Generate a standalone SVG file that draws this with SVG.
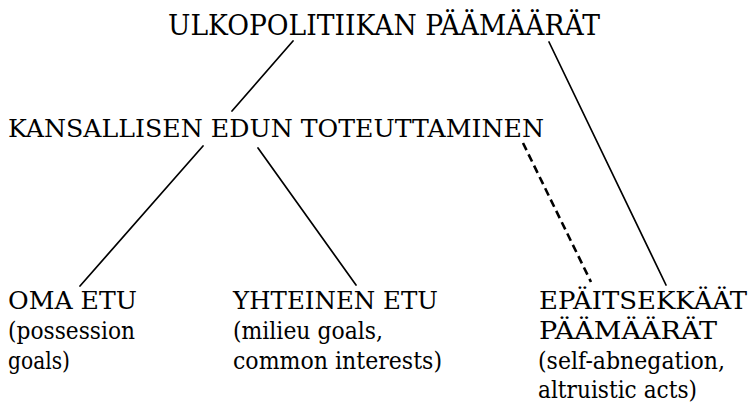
<svg xmlns="http://www.w3.org/2000/svg" width="751" height="415" viewBox="0 0 751 415">
  <style>
    text { font-family: "DejaVu Serif", "Liberation Serif", serif; font-size: 25px; fill: #000; }
    .title { font-size: 27px; }
    .edge { stroke: #000; stroke-width: 1.7; fill: none; stroke-linecap: round; }
    .dash { stroke: #000; stroke-width: 2.6; fill: none; stroke-dasharray: 8 4.6; }
  </style>
  <rect width="751" height="415" fill="#ffffff"/>
  <g id="connectors">
    <line class="edge" x1="293" y1="41" x2="232" y2="111"/>
    <line class="edge" x1="549" y1="42" x2="666" y2="285"/>
    <line class="edge" x1="203" y1="146" x2="80" y2="286"/>
    <line class="edge" x1="258" y1="148" x2="356" y2="285"/>
    <line class="dash" x1="523" y1="143" x2="591" y2="282"/>
  </g>
  <g id="root" font-family="DejaVu Serif, serif">
    <text class="title" x="168" y="35" textLength="432" lengthAdjust="spacingAndGlyphs">ULKOPOLITIIKAN PÄÄMÄÄRÄT</text>
  </g>
  <g id="national-interest" font-family="DejaVu Serif, serif">
    <text x="8" y="137" textLength="536" lengthAdjust="spacingAndGlyphs">KANSALLISEN EDUN TOTEUTTAMINEN</text>
  </g>
  <g id="own-interest" font-family="DejaVu Serif, serif">
    <text x="8" y="309" textLength="129" lengthAdjust="spacingAndGlyphs">OMA ETU</text>
    <text x="8" y="339" textLength="127" lengthAdjust="spacingAndGlyphs">(possession</text>
    <text x="8" y="369" textLength="62" lengthAdjust="spacingAndGlyphs">goals)</text>
  </g>
  <g id="common-interest" font-family="DejaVu Serif, serif">
    <text x="233" y="309" textLength="205" lengthAdjust="spacingAndGlyphs">YHTEINEN ETU</text>
    <text x="233" y="339" textLength="150" lengthAdjust="spacingAndGlyphs">(milieu goals,</text>
    <text x="233" y="369" textLength="209" lengthAdjust="spacingAndGlyphs">common interests)</text>
  </g>
  <g id="altruistic-goals" font-family="DejaVu Serif, serif">
    <text x="539" y="309" textLength="208" lengthAdjust="spacingAndGlyphs">EPÄITSEKKÄÄT</text>
    <text x="539" y="339" textLength="178" lengthAdjust="spacingAndGlyphs">PÄÄMÄÄRÄT</text>
    <text x="538" y="369" textLength="187" lengthAdjust="spacingAndGlyphs">(self-abnegation,</text>
    <text x="538" y="398" textLength="159" lengthAdjust="spacingAndGlyphs">altruistic acts)</text>
  </g>
</svg>
